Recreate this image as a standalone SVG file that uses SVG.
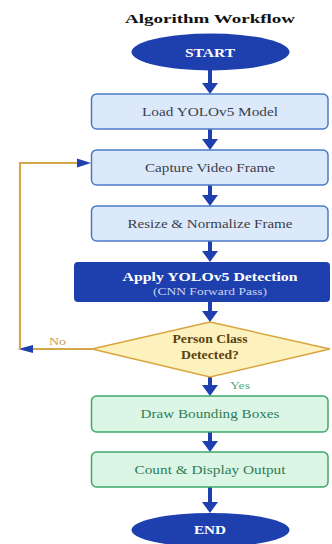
<svg xmlns="http://www.w3.org/2000/svg" width="332" height="544" viewBox="0 0 332 544">
<defs>
<style>
text{font-family:"Liberation Serif","Times New Roman",serif;text-anchor:middle}
.title{font-size:13.5px;font-weight:bold;fill:#111}
.term{fill:#1e40af}
.termt{font-size:12.5px;font-weight:bold;fill:#fff}
.blue{fill:#dce9fb;stroke:#4a7bc8;stroke-width:1.5}
.bluet{font-size:13px;fill:#3a3f4a}
.dark{fill:#1e40af}
.darkt{font-size:12.5px;font-weight:bold;fill:#fff}
.darks{font-size:10px;fill:#c9d4f2}
.dia{fill:#fdf1bd;stroke:#d9a53e;stroke-width:1.5}
.diat{font-size:11.5px;font-weight:bold;fill:#5b4310}
.green{fill:#dcf6e5;stroke:#3ea868;stroke-width:1.5}
.greent{font-size:13px;fill:#2f7d55}
.loop{stroke:#d6a64a;stroke-width:2.2;fill:none}
.lbl{font-size:10px;text-anchor:start}
.head{fill:#1e40af}
</style>
</defs>
<rect width="332" height="544" fill="#fff"/>
<text class="title" x="210" y="23" textLength="170" lengthAdjust="spacingAndGlyphs">Algorithm Workflow</text>

<g id="connectors">
<g class="head">
<rect x="208" y="70" width="4" height="14"/><polygon points="202,83 218,83 210,94"/>
<rect x="208" y="129" width="4" height="11"/><polygon points="202,139 218,139 210,150"/>
<rect x="208" y="185" width="4" height="11"/><polygon points="202,195 218,195 210,206"/>
<rect x="208" y="241" width="4" height="11"/><polygon points="202,251 218,251 210,262"/>
<rect x="208" y="302" width="4" height="10"/><polygon points="202,311 218,311 210,322"/>
<rect x="208" y="377" width="4" height="9"/><polygon points="202,385 218,385 210,396"/>
<rect x="208" y="432" width="4" height="10"/><polygon points="202,441 218,441 210,452"/>
<rect x="208" y="487" width="4" height="16"/><polygon points="202,502 218,502 210,513"/>
</g>
<path class="loop" d="M92,349 H30"/>
<polygon class="head" points="18,349 33,345 33,353"/>
<path class="loop" d="M20,349 V163 H78"/>
<polygon class="head" points="91,163 77,158.5 77,167.5"/>
<text class="lbl" x="49" y="345" fill="#c9a252" textLength="17" lengthAdjust="spacingAndGlyphs">No</text>
<text class="lbl" x="230" y="389" fill="#4fae86" textLength="20" lengthAdjust="spacingAndGlyphs">Yes</text>
</g>

<g id="start">
<ellipse class="term" cx="210.5" cy="52" rx="79" ry="18.5"/>
<text class="termt" x="210" y="57" textLength="50" lengthAdjust="spacingAndGlyphs">START</text>
</g>
<g id="load">
<rect class="blue" x="91.5" y="94" width="236.5" height="35" rx="5"/>
<text class="bluet" x="210" y="116" textLength="136" lengthAdjust="spacingAndGlyphs">Load YOLOv5 Model</text>
</g>
<g id="capture">
<rect class="blue" x="91.5" y="150" width="236.5" height="35" rx="5"/>
<text class="bluet" x="210" y="172" textLength="130" lengthAdjust="spacingAndGlyphs">Capture Video Frame</text>
</g>
<g id="resize">
<rect class="blue" x="91.5" y="206" width="236.5" height="35" rx="5"/>
<text class="bluet" x="210" y="228" textLength="165" lengthAdjust="spacingAndGlyphs">Resize &amp; Normalize Frame</text>
</g>
<g id="detect">
<rect class="dark" x="74" y="262" width="256" height="40" rx="4"/>
<text class="darkt" x="210" y="281" textLength="175" lengthAdjust="spacingAndGlyphs">Apply YOLOv5 Detection</text>
<text class="darks" x="210" y="295" textLength="114" lengthAdjust="spacingAndGlyphs">(CNN Forward Pass)</text>
</g>
<g id="decision">
<polygon class="dia" points="210,322 330,349 210,377 92,349"/>
<text class="diat" x="210" y="343" textLength="75" lengthAdjust="spacingAndGlyphs">Person Class</text>
<text class="diat" x="210" y="359" textLength="58" lengthAdjust="spacingAndGlyphs">Detected?</text>
</g>
<g id="draw">
<rect class="green" x="91.5" y="396" width="236.5" height="36" rx="5"/>
<text class="greent" x="210" y="418" textLength="139" lengthAdjust="spacingAndGlyphs">Draw Bounding Boxes</text>
</g>
<g id="count">
<rect class="green" x="91.5" y="452" width="236.5" height="35" rx="5"/>
<text class="greent" x="210" y="474" textLength="151" lengthAdjust="spacingAndGlyphs">Count &amp; Display Output</text>
</g>
<g id="end">
<ellipse class="term" cx="210.5" cy="530" rx="79" ry="17"/>
<text class="termt" x="210" y="534" textLength="32" lengthAdjust="spacingAndGlyphs">END</text>
</g>
</svg>
